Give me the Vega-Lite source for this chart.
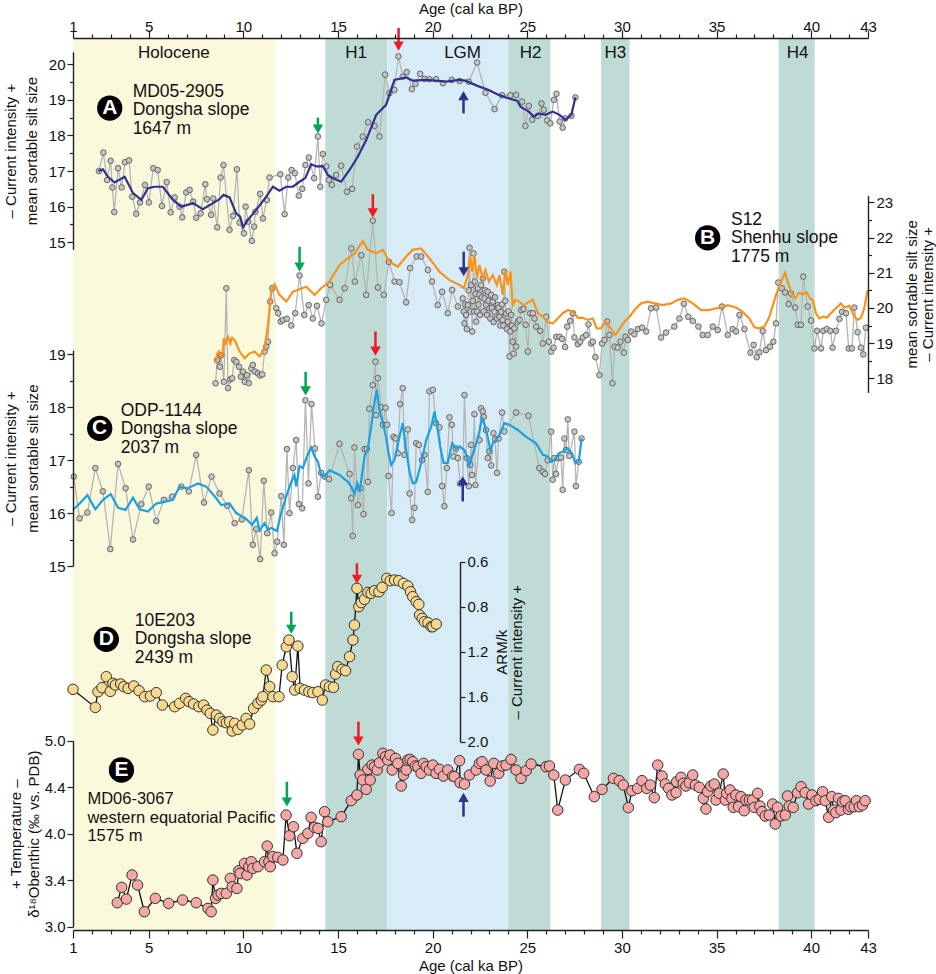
{
"$schema": "https://vega.github.io/schema/vega-lite/v6.json",
"width": 795, "height": 892,
"autosize": {"type": "none"},
"padding": {"left": 73, "top": 38, "right": 68, "bottom": 44},
"background": "white",
"config": {
  "view": {"stroke": null},
  "font": "Liberation Sans",
  "axis": {"grid": false, "zindex": 1, "domainColor": "#231f20", "domainWidth": 1.4, "tickColor": "#231f20", "tickWidth": 1.2, "labelColor": "#111111", "labelFont": "Liberation Sans", "labelFontSize": 15, "titleFont": "Liberation Sans", "titleFontSize": 15, "titleFontWeight": "normal", "titleColor": "#111111", "labelOverlap": false, "labelFlush": false, "labelPadding": 2},
  "text": {"font": "Liberation Sans"}
},
"datasets": {
  "bands": [
    {"name": "Holocene", "start": 1, "end": 11.7, "kind": "Holocene", "mid": 6.33},
    {"name": "H1", "start": 14.33, "end": 17.6, "kind": "Heinrich", "mid": 15.96},
    {"name": "LGM", "start": 17.6, "end": 24, "kind": "LGM", "mid": 21.58},
    {"name": "H2", "start": 24, "end": 26.22, "kind": "Heinrich", "mid": 25.17},
    {"name": "H3", "start": 28.9, "end": 30.4, "kind": "Heinrich", "mid": 29.65},
    {"name": "H4", "start": 38.28, "end": 40.18, "kind": "Heinrich", "mid": 39.28}
  ],
  "sites": [
    {"panel": "A", "cAge": 2.94, "cV": 18.77, "tAge": 4.15, "tV": 19.23, "letter": "A", "label": "MD05-2905\nDongsha slope\n1647 m"},
    {"panel": "B", "cAge": 34.53, "cV": 21.99, "tAge": 35.76, "tV": 22.5, "letter": "B", "label": "S12\nShenhu slope\n1775 m"},
    {"panel": "C", "cAge": 2.41, "cV": 17.6, "tAge": 3.52, "tV": 17.93, "letter": "C", "label": "ODP-1144\nDongsha slope\n2037 m"},
    {"panel": "D", "cAge": 2.76, "cV": 1.09, "tAge": 4.26, "tV": 0.927, "letter": "D", "label": "10E203\nDongsha slope\n2439 m"},
    {"panel": "E", "cAge": 3.56, "cV": 4.685, "tAge": 1.76, "tV": 4.373, "letter": "E", "label": "MD06-3067\nwestern equatorial Pacific\n1575 m"}
  ],
  "arrows": [
    {"panel": "A", "ev": "H1", "age": 18.2, "tail": 21.02, "head": 20.51, "dir": "down"},
    {"panel": "A", "ev": "BA", "age": 13.94, "tail": 18.5, "head": 18.18, "dir": "down"},
    {"panel": "A", "ev": "LGM", "age": 21.63, "tail": 18.62, "head": 19.12, "dir": "up"},
    {"panel": "B", "ev": "H1", "age": 16.84, "tail": 23.23, "head": 22.7, "dir": "down"},
    {"panel": "B", "ev": "BA", "age": 12.97, "tail": 21.74, "head": 21.16, "dir": "down"},
    {"panel": "B", "ev": "LGM", "age": 21.64, "tail": 21.6, "head": 21.03, "dir": "down"},
    {"panel": "C", "ev": "H1", "age": 16.98, "tail": 19.43, "head": 19.06, "dir": "down"},
    {"panel": "C", "ev": "BA", "age": 13.29, "tail": 18.67, "head": 18.31, "dir": "down"},
    {"panel": "C", "ev": "LGM", "age": 21.59, "tail": 16.22, "head": 16.61, "dir": "up"},
    {"panel": "D", "ev": "H1", "age": 16.0, "tail": 0.414, "head": 0.556, "dir": "down"},
    {"panel": "D", "ev": "BA", "age": 12.53, "tail": 0.844, "head": 1.001, "dir": "down"},
    {"panel": "E", "ev": "H1", "age": 16.08, "tail": 5.204, "head": 4.997, "dir": "down"},
    {"panel": "E", "ev": "BA", "age": 12.3, "tail": 4.559, "head": 4.341, "dir": "down"},
    {"panel": "E", "ev": "LGM", "age": 21.63, "tail": 4.183, "head": 4.391, "dir": "up"}
  ],
  "aRaw": [
    {"age":2.37,"v":17.0},{"age":2.6,"v":17.52},{"age":2.8,"v":16.75},{"age":2.99,"v":17.29},{"age":3.08,"v":16.54},{"age":3.18,"v":15.85},{"age":3.38,"v":17.08},{"age":3.57,"v":16.54},{"age":3.75,"v":17.25},{"age":3.96,"v":17.3},{"age":4.13,"v":16.28},{"age":4.34,"v":15.8},{"age":4.54,"v":16.12},{"age":4.8,"v":16.61},{"age":5.01,"v":16.12},{"age":5.24,"v":17.08},{"age":5.47,"v":17.03},{"age":5.7,"v":16.02},{"age":5.95,"v":16.69},{"age":6.16,"v":15.84},{"age":6.37,"v":16.26},{"age":6.63,"v":16.0},{"age":6.77,"v":15.7},{"age":6.98,"v":16.4},{"age":7.16,"v":16.47},{"age":7.35,"v":16.14},{"age":7.51,"v":15.69},{"age":7.74,"v":15.81},{"age":7.99,"v":16.63},{"age":8.07,"v":16.21},{"age":8.3,"v":15.77},{"age":8.41,"v":16.23},{"age":8.62,"v":15.42},{"age":8.8,"v":16.82},{"age":8.95,"v":17.17},{"age":9.27,"v":15.35},{"age":9.45,"v":15.74},{"age":9.66,"v":17.05},{"age":9.8,"v":15.55},{"age":10.03,"v":15.25},{"age":10.12,"v":16.0},{"age":10.26,"v":15.58},{"age":10.45,"v":15.04},{"age":10.57,"v":15.44},{"age":10.64,"v":15.86},{"age":10.89,"v":16.36},{"age":11.03,"v":15.67},{"age":11.24,"v":16.19},{"age":11.38,"v":16.82},{"age":11.95,"v":16.91},{"age":12.18,"v":15.79},{"age":12.37,"v":16.82},{"age":12.55,"v":17.03},{"age":12.72,"v":16.94},{"age":12.93,"v":16.31},{"age":13.11,"v":16.5},{"age":13.28,"v":17.17},{"age":13.46,"v":17.38},{"age":13.74,"v":16.8},{"age":13.94,"v":17.97},{"age":14.06,"v":16.56},{"age":14.2,"v":17.48},{"age":14.38,"v":17.13},{"age":14.52,"v":16.75},{"age":14.67,"v":16.61},{"age":14.9,"v":16.89},{"age":15.17,"v":17.15},{"age":15.47,"v":16.42},{"age":15.75,"v":16.5},{"age":16.01,"v":17.69},{"age":16.31,"v":17.97},{"age":16.59,"v":18.37},{"age":16.93,"v":18.27},{"age":17.19,"v":17.97},{"age":17.49,"v":19.71},{"age":17.72,"v":19.19},{"age":17.98,"v":19.28},{"age":18.19,"v":20.22},{"age":18.42,"v":19.65},{"age":18.63,"v":19.78},{"age":18.9,"v":19.3},{"age":19.09,"v":19.45},{"age":19.34,"v":19.73},{"age":19.57,"v":19.59},{"age":19.83,"v":19.58},{"age":20.18,"v":19.58},{"age":20.54,"v":19.47},{"age":21.01,"v":19.56},{"age":21.42,"v":19.53},{"age":21.91,"v":19.51},{"age":22.35,"v":20.05},{"age":22.79,"v":19.2},{"age":23.27,"v":18.74},{"age":23.67,"v":19.13},{"age":24.11,"v":19.13},{"age":24.41,"v":19.14},{"age":24.73,"v":18.95},{"age":24.9,"v":18.27},{"age":25.08,"v":18.83},{"age":25.26,"v":18.44},{"age":25.55,"v":18.55},{"age":25.75,"v":18.9},{"age":25.87,"v":18.72},{"age":26.05,"v":18.42},{"age":26.22,"v":18.34},{"age":26.4,"v":19.0},{"age":26.54,"v":19.17},{"age":26.71,"v":18.39},{"age":26.87,"v":18.22},{"age":27.01,"v":18.48},{"age":27.33,"v":18.55},{"age":27.54,"v":19.07}
  ],
  "aSmooth": [
    {"age":2.34,"v":17.0},{"age":2.58,"v":17.05},{"age":2.85,"v":16.84},{"age":3.2,"v":16.68},{"age":3.73,"v":16.84},{"age":4.17,"v":16.38},{"age":4.61,"v":16.19},{"age":4.96,"v":16.52},{"age":5.31,"v":16.56},{"age":5.75,"v":16.56},{"age":6.28,"v":16.19},{"age":6.72,"v":16.0},{"age":7.34,"v":16.1},{"age":7.86,"v":15.93},{"age":8.39,"v":16.1},{"age":8.74,"v":16.21},{"age":8.95,"v":16.33},{"age":9.27,"v":16.26},{"age":9.62,"v":15.81},{"age":9.83,"v":15.72},{"age":9.98,"v":15.42},{"age":10.24,"v":15.63},{"age":10.68,"v":15.91},{"age":11.21,"v":16.28},{"age":11.56,"v":16.56},{"age":11.91,"v":16.45},{"age":12.26,"v":16.56},{"age":12.62,"v":16.56},{"age":12.97,"v":16.7},{"age":13.28,"v":16.81},{"age":13.58,"v":17.19},{"age":13.85,"v":17.13},{"age":14.2,"v":17.14},{"age":14.46,"v":16.89},{"age":14.73,"v":16.8},{"age":15.17,"v":16.7},{"age":15.61,"v":17.03},{"age":16.05,"v":17.41},{"age":16.49,"v":17.87},{"age":17.02,"v":18.58},{"age":17.54,"v":18.86},{"age":17.98,"v":19.56},{"age":18.6,"v":19.63},{"age":18.95,"v":19.54},{"age":19.66,"v":19.56},{"age":20.71,"v":19.51},{"age":21.42,"v":19.56},{"age":21.73,"v":19.54},{"age":22.33,"v":19.4},{"age":22.96,"v":19.28},{"age":23.49,"v":19.14},{"age":24.02,"v":19.04},{"age":24.46,"v":18.98},{"age":24.64,"v":18.81},{"age":25.08,"v":18.67},{"age":25.34,"v":18.53},{"age":25.61,"v":18.62},{"age":25.96,"v":18.58},{"age":26.34,"v":18.67},{"age":26.7,"v":18.58},{"age":27.01,"v":18.44},{"age":27.33,"v":18.58},{"age":27.54,"v":19.07}
  ],
  "bRaw": [
    {"age":8.53,"v":17.86},{"age":8.62,"v":18.52},{"age":8.75,"v":18.33},{"age":8.83,"v":18.66},{"age":8.97,"v":17.9},{"age":9.1,"v":20.56},{"age":9.19,"v":17.72},{"age":9.31,"v":17.97},{"age":9.41,"v":18.0},{"age":9.52,"v":18.52},{"age":9.63,"v":18.47},{"age":9.77,"v":18.33},{"age":9.87,"v":18.05},{"age":9.98,"v":18.19},{"age":10.07,"v":17.9},{"age":10.19,"v":18.09},{"age":10.29,"v":17.86},{"age":10.42,"v":18.28},{"age":10.5,"v":18.38},{"age":10.61,"v":18.19},{"age":10.77,"v":18.14},{"age":10.89,"v":18.08},{"age":11.0,"v":18.11},{"age":11.12,"v":18.76},{"age":11.21,"v":18.9},{"age":11.3,"v":19.04},{"age":11.42,"v":20.18},{"age":11.53,"v":20.56},{"age":11.74,"v":19.99},{"age":11.84,"v":19.85},{"age":11.97,"v":19.61},{"age":12.09,"v":19.66},{"age":12.3,"v":19.69},{"age":12.53,"v":19.5},{"age":12.74,"v":19.85},{"age":12.97,"v":20.92},{"age":13.22,"v":19.8},{"age":13.45,"v":20.08},{"age":13.67,"v":19.7},{"age":13.89,"v":20.06},{"age":14.13,"v":19.56},{"age":14.38,"v":20.23},{"age":14.59,"v":20.65},{"age":15.08,"v":20.23},{"age":15.35,"v":20.56},{"age":15.7,"v":21.69},{"age":15.89,"v":20.75},{"age":16.23,"v":21.5},{"age":16.49,"v":20.37},{"age":16.84,"v":22.48},{"age":17.11,"v":20.58},{"age":17.42,"v":20.37},{"age":17.69,"v":21.31},{"age":17.99,"v":20.75},{"age":18.25,"v":20.73},{"age":18.6,"v":20.16},{"age":18.81,"v":21.13},{"age":19.16,"v":21.46},{"age":19.39,"v":21.46},{"age":19.75,"v":21.08},{"age":19.97,"v":20.75},{"age":20.27,"v":20.08},{"age":20.5,"v":20.46},{"age":20.8,"v":19.85},{"age":21.03,"v":20.51},{"age":21.33,"v":20.04},{"age":21.59,"v":20.27},{"age":21.64,"v":19.9},{"age":21.68,"v":19.56},{"age":21.72,"v":20.1},{"age":21.77,"v":19.8},{"age":21.81,"v":19.4},{"age":21.86,"v":20.08},{"age":21.9,"v":20.5},{"age":21.95,"v":21.71},{"age":22.0,"v":19.9},{"age":22.03,"v":20.65},{"age":22.09,"v":19.33},{"age":22.12,"v":20.2},{"age":22.16,"v":21.55},{"age":22.2,"v":19.9},{"age":22.23,"v":20.75},{"age":22.27,"v":20.4},{"age":22.3,"v":19.61},{"age":22.35,"v":19.9},{"age":22.39,"v":20.56},{"age":22.43,"v":20.1},{"age":22.47,"v":20.37},{"age":22.51,"v":19.8},{"age":22.56,"v":20.65},{"age":22.6,"v":20.3},{"age":22.65,"v":20.84},{"age":22.69,"v":19.9},{"age":22.74,"v":20.27},{"age":22.78,"v":20.5},{"age":22.83,"v":20.08},{"age":22.87,"v":19.8},{"age":22.91,"v":20.46},{"age":22.95,"v":20.2},{"age":23.0,"v":19.99},{"age":23.05,"v":19.7},{"age":23.09,"v":20.37},{"age":23.13,"v":20.0},{"age":23.18,"v":20.18},{"age":23.22,"v":19.6},{"age":23.26,"v":19.89},{"age":23.3,"v":20.3},{"age":23.4,"v":19.7},{"age":23.44,"v":20.08},{"age":23.48,"v":20.0},{"age":23.53,"v":19.75},{"age":23.57,"v":19.5},{"age":23.62,"v":19.89},{"age":23.66,"v":20.1},{"age":23.7,"v":19.66},{"age":23.74,"v":19.5},{"age":23.79,"v":21.03},{"age":23.84,"v":20.2},{"age":23.88,"v":19.84},{"age":23.92,"v":19.4},{"age":23.97,"v":19.61},{"age":24.01,"v":19.9},{"age":24.06,"v":18.62},{"age":24.1,"v":19.33},{"age":24.15,"v":19.8},{"age":24.19,"v":19.5},{"age":24.23,"v":19.04},{"age":24.28,"v":18.7},{"age":24.32,"v":19.42},{"age":24.41,"v":18.9},{"age":24.5,"v":19.61},
    {"age":24.59,"v":19.66},{"age":24.68,"v":19.94},{"age":24.8,"v":19.97},{"age":24.91,"v":19.52},{"age":25.03,"v":18.76},{"age":25.15,"v":19.85},{"age":25.29,"v":19.85},{"age":25.38,"v":19.7},{"age":25.47,"v":19.47},{"age":25.68,"v":19.35},{"age":25.82,"v":18.99},{"age":26.0,"v":19.75},{"age":26.14,"v":19.04},{"age":26.26,"v":18.76},{"age":26.39,"v":18.87},{"age":26.53,"v":19.18},{"age":26.7,"v":19.18},{"age":26.84,"v":19.12},{"age":27.0,"v":18.89},{"age":27.11,"v":19.47},{"age":27.27,"v":19.63},{"age":27.41,"v":19.85},{"age":27.49,"v":19.16},{"age":27.67,"v":18.97},{"age":27.79,"v":19.04},{"age":27.93,"v":19.16},{"age":28.11,"v":19.23},{"age":28.23,"v":19.53},{"age":28.37,"v":18.99},{"age":28.46,"v":19.04},{"age":28.6,"v":18.6},{"age":28.81,"v":18.09},{"age":28.95,"v":18.99},{"age":29.08,"v":19.09},{"age":29.22,"v":19.61},{"age":29.34,"v":19.23},{"age":29.5,"v":17.86},{"age":29.61,"v":18.9},{"age":29.78,"v":18.87},{"age":29.92,"v":19.04},{"age":30.1,"v":18.73},{"age":30.19,"v":19.18},{"age":30.31,"v":19.09},{"age":30.49,"v":19.33},{"age":30.66,"v":19.25},{"age":30.84,"v":19.4},{"age":31.07,"v":19.44},{"age":31.28,"v":19.33},{"age":31.54,"v":19.99},{"age":31.81,"v":20.01},{"age":32.07,"v":19.16},{"age":32.33,"v":19.3},{"age":32.77,"v":19.47},{"age":33.04,"v":19.7},{"age":33.27,"v":20.12},{"age":33.5,"v":19.75},{"age":33.74,"v":19.63},{"age":34.04,"v":19.47},{"age":34.27,"v":19.23},{"age":34.53,"v":19.23},{"age":34.8,"v":19.47},{"age":35.06,"v":19.37},{"age":35.29,"v":20.04},{"age":35.59,"v":19.23},{"age":35.85,"v":19.4},{"age":36.03,"v":19.33},{"age":36.21,"v":19.8},{"age":36.47,"v":19.4},{"age":36.79,"v":18.73},{"age":36.96,"v":18.95},{"age":37.12,"v":18.6},{"age":37.26,"v":18.74},{"age":37.44,"v":19.34},{"age":37.61,"v":18.8},{"age":37.82,"v":18.9},{"age":38.0,"v":19.04},{"age":38.14,"v":19.56},{"age":38.26,"v":20.72},{"age":38.44,"v":20.56},{"age":38.62,"v":20.44},{"age":38.81,"v":20.11},{"age":38.93,"v":20.41},{"age":39.15,"v":20.01},{"age":39.29,"v":19.52},{"age":39.46,"v":19.52},{"age":39.58,"v":20.89},{"age":39.81,"v":20.04},{"age":39.99,"v":19.64},{"age":40.17,"v":18.85},{"age":40.31,"v":19.35},{"age":40.52,"v":18.85},{"age":40.64,"v":19.35},{"age":40.82,"v":19.4},{"age":41.01,"v":19.35},{"age":41.13,"v":18.87},{"age":41.31,"v":19.35},{"age":41.49,"v":19.69},{"age":41.63,"v":19.89},{"age":41.84,"v":19.85},{"age":41.98,"v":18.85},{"age":42.15,"v":18.85},{"age":42.28,"v":20.01},{"age":42.45,"v":19.31},{"age":42.63,"v":18.87},{"age":42.75,"v":18.68},{"age":42.89,"v":19.44}
  ],
  "bSmooth": [
    {"age":8.53,"v":18.43},{"age":8.62,"v":18.7},{"age":8.71,"v":18.76},{"age":8.8,"v":18.62},{"age":8.89,"v":18.66},{"age":8.97,"v":19.14},{"age":9.05,"v":18.95},{"age":9.12,"v":19.1},{"age":9.19,"v":19.18},{"age":9.31,"v":18.99},{"age":9.38,"v":19.15},{"age":9.45,"v":19.14},{"age":9.59,"v":19.04},{"age":9.8,"v":18.76},{"age":10.07,"v":18.57},{"age":10.33,"v":18.71},{"age":10.59,"v":18.76},{"age":10.86,"v":18.62},{"age":11.12,"v":18.85},{"age":11.3,"v":19.52},{"age":11.47,"v":20.46},{"age":11.65,"v":20.67},{"age":11.91,"v":20.37},{"age":12.27,"v":20.18},{"age":12.62,"v":20.46},{"age":13.32,"v":20.6},{"age":13.76,"v":20.37},{"age":14.11,"v":20.56},{"age":14.55,"v":20.75},{"age":15.08,"v":21.22},{"age":15.52,"v":21.41},{"age":15.87,"v":21.55},{"age":16.31,"v":21.9},{"age":16.58,"v":21.65},{"age":17.02,"v":21.55},{"age":17.37,"v":21.65},{"age":17.72,"v":21.31},{"age":18.16,"v":21.17},{"age":18.6,"v":21.46},{"age":18.95,"v":21.65},{"age":19.39,"v":21.69},{"age":19.83,"v":21.41},{"age":20.36,"v":21.03},{"age":20.89,"v":20.79},{"age":21.42,"v":20.65},{"age":21.65,"v":20.56},{"age":21.86,"v":20.93},{"age":21.98,"v":21.5},{"age":22.09,"v":21.03},{"age":22.21,"v":21.5},{"age":22.34,"v":20.85},{"age":22.47,"v":21.22},{"age":22.65,"v":20.84},{"age":22.79,"v":21.08},{"age":22.97,"v":20.75},{"age":23.18,"v":20.93},{"age":23.39,"v":20.65},{"age":23.53,"v":20.93},{"age":23.71,"v":20.37},{"age":23.85,"v":21.08},{"age":23.97,"v":20.65},{"age":24.11,"v":21.03},{"age":24.23,"v":20.08},{"age":24.37,"v":20.23},{"age":24.58,"v":20.18},{"age":24.8,"v":20.08},{"age":25.29,"v":20.23},{"age":25.56,"v":19.85},{"age":25.82,"v":19.75},{"age":26.09,"v":19.59},{"age":26.35,"v":19.56},{"age":26.61,"v":19.7},{"age":26.88,"v":19.85},{"age":27.14,"v":19.94},{"age":27.41,"v":19.89},{"age":27.67,"v":19.72},{"age":27.93,"v":19.72},{"age":28.2,"v":19.66},{"age":28.46,"v":19.7},{"age":28.67,"v":19.42},{"age":28.9,"v":19.42},{"age":29.13,"v":19.61},{"age":29.34,"v":19.47},{"age":29.66,"v":19.23},{"age":30.13,"v":19.61},{"age":30.4,"v":19.75},{"age":30.66,"v":19.94},{"age":31.01,"v":20.13},{"age":31.37,"v":20.18},{"age":31.72,"v":20.13},{"age":32.16,"v":20.08},{"age":32.6,"v":20.13},{"age":32.95,"v":20.23},{"age":33.3,"v":20.27},{"age":33.74,"v":20.13},{"age":34.18,"v":19.94},{"age":34.62,"v":19.94},{"age":34.97,"v":19.99},{"age":35.33,"v":20.01},{"age":35.59,"v":20.08},{"age":36.03,"v":20.01},{"age":36.38,"v":19.89},{"age":36.73,"v":19.7},{"age":37.0,"v":19.45},{"age":37.26,"v":19.42},{"age":37.53,"v":19.47},{"age":37.79,"v":19.75},{"age":38.14,"v":20.37},{"age":38.41,"v":20.75},{"age":38.62,"v":21.0},{"age":38.76,"v":20.75},{"age":38.93,"v":20.46},{"age":39.16,"v":20.27},{"age":39.34,"v":20.43},{"age":39.55,"v":20.39},{"age":39.76,"v":20.44},{"age":39.94,"v":20.27},{"age":40.08,"v":20.23},{"age":40.25,"v":19.85},{"age":40.43,"v":19.7},{"age":40.64,"v":19.75},{"age":40.82,"v":19.72},{"age":41.04,"v":19.85},{"age":41.31,"v":19.99},{"age":41.57,"v":20.13},{"age":41.75,"v":20.01},{"age":42.01,"v":20.06},{"age":42.28,"v":19.75},{"age":42.45,"v":19.66},{"age":42.63,"v":19.72},{"age":42.8,"v":19.99},{"age":42.98,"v":20.5}
  ],
  "cRaw": [
    {"age":1.04,"v":16.69},{"age":1.35,"v":15.9},{"age":1.76,"v":16.01},{"age":2.18,"v":16.85},{"age":2.58,"v":16.41},{"age":2.97,"v":15.32},{"age":3.38,"v":16.93},{"age":3.78,"v":16.47},{"age":4.17,"v":15.5},{"age":4.61,"v":16.17},{"age":5.0,"v":16.5},{"age":5.4,"v":15.85},{"age":5.8,"v":16.25},{"age":6.24,"v":16.31},{"age":6.72,"v":16.5},{"age":7.12,"v":16.41},{"age":7.51,"v":17.1},{"age":7.92,"v":16.2},{"age":8.32,"v":16.69},{"age":8.74,"v":16.37},{"age":9.15,"v":16.14},{"age":9.54,"v":15.81},{"age":9.92,"v":15.88},{"age":10.29,"v":16.81},{"age":10.5,"v":15.4},{"age":10.68,"v":15.7},{"age":10.89,"v":15.13},{"age":11.08,"v":16.61},{"age":11.26,"v":15.62},{"age":11.47,"v":16.01},{"age":11.65,"v":15.24},{"age":11.79,"v":15.46},{"age":12.0,"v":16.32},{"age":12.14,"v":15.4},{"age":12.3,"v":17.21},{"age":12.44,"v":16.0},{"age":12.62,"v":16.85},{"age":12.79,"v":17.38},{"age":12.93,"v":16.17},{"age":13.11,"v":16.09},{"age":13.28,"v":18.13},{"age":13.44,"v":16.56},{"age":13.6,"v":18.06},{"age":13.78,"v":17.22},{"age":13.94,"v":16.31},{"age":14.11,"v":16.76},{"age":14.29,"v":16.69},{"age":14.52,"v":16.64},{"age":15.08,"v":17.31},{"age":15.61,"v":16.74},{"age":15.7,"v":16.28},{"age":15.78,"v":15.57},{"age":15.87,"v":17.24},{"age":16.05,"v":16.15},{"age":16.19,"v":16.47},{"age":16.35,"v":15.98},{"age":16.4,"v":17.21},{"age":16.52,"v":17.21},{"age":16.58,"v":16.59},{"age":16.66,"v":17.97},{"age":16.84,"v":18.42},{"age":16.98,"v":18.86},{"age":17.02,"v":17.85},{"age":17.1,"v":18.55},{"age":17.28,"v":18.0},{"age":17.37,"v":17.67},{"age":17.51,"v":17.99},{"age":17.6,"v":17.67},{"age":17.67,"v":16.7},{"age":17.83,"v":16.0},{"age":17.93,"v":17.44},{"age":18.04,"v":17.41},{"age":18.16,"v":17.13},{"age":18.28,"v":18.06},{"age":18.42,"v":18.36},{"age":18.51,"v":17.1},{"age":18.69,"v":17.58},{"age":18.78,"v":16.37},{"age":18.92,"v":15.87},{"age":19.04,"v":16.1},{"age":19.13,"v":17.32},{"age":19.27,"v":17.29},{"age":19.44,"v":17.0},{"age":19.57,"v":17.1},{"age":19.74,"v":16.4},{"age":19.83,"v":18.3},{"age":20.01,"v":18.33},{"age":20.18,"v":17.7},{"age":20.36,"v":17.62},{"age":20.5,"v":16.51},{"age":20.62,"v":16.13},{"age":20.75,"v":16.85},{"age":20.89,"v":17.81},{"age":21.01,"v":17.67},{"age":21.1,"v":17.07},{"age":21.24,"v":17.22},{"age":21.33,"v":17.04},{"age":21.45,"v":16.56},{"age":21.59,"v":16.58},{"age":21.68,"v":18.23},{"age":21.8,"v":17.04},{"age":21.91,"v":16.51},{"age":21.98,"v":16.91},{"age":22.03,"v":17.29},{"age":22.08,"v":16.72},{"age":22.21,"v":17.87},{"age":22.26,"v":16.53},{"age":22.47,"v":17.38},{"age":22.56,"v":17.98},{"age":22.65,"v":17.92},{"age":22.7,"v":17.82},{"age":22.82,"v":17.57},{"age":22.91,"v":17.04},{"age":23.0,"v":17.17},{"age":23.09,"v":16.9},{"age":23.21,"v":17.51},{"age":23.3,"v":17.39},{"age":23.4,"v":16.76},{"age":23.49,"v":17.41},{"age":23.67,"v":17.9},{"age":23.79,"v":17.54},{"age":24.41,"v":17.9},{"age":25.06,"v":17.84},{"age":25.64,"v":16.85},{"age":25.82,"v":16.78},{"age":25.94,"v":16.74},{"age":26.08,"v":17.0},{"age":26.26,"v":17.54},{"age":26.34,"v":16.63},{"age":26.43,"v":17.04},{"age":26.52,"v":16.74},{"age":26.66,"v":17.04},{"age":26.78,"v":17.05},{"age":26.87,"v":16.44},{"age":26.96,"v":17.41},{"age":27.05,"v":17.19},{"age":27.14,"v":17.77},{"age":27.22,"v":17.08},{"age":27.49,"v":17.54},{"age":27.57,"v":16.51},{"age":27.72,"v":16.97},{"age":27.87,"v":17.41}
  ],
  "cSmooth": [
    {"age":1.0,"v":16.06},{"age":1.35,"v":16.18},{"age":1.76,"v":16.34},{"age":2.18,"v":16.07},{"age":2.58,"v":16.25},{"age":2.99,"v":16.36},{"age":3.38,"v":16.1},{"age":3.78,"v":16.06},{"age":4.17,"v":16.29},{"age":4.52,"v":16.07},{"age":4.96,"v":16.03},{"age":5.4,"v":16.18},{"age":5.93,"v":16.22},{"age":6.28,"v":16.25},{"age":6.63,"v":16.5},{"age":7.07,"v":16.47},{"age":7.6,"v":16.56},{"age":8.04,"v":16.5},{"age":8.57,"v":16.28},{"age":8.83,"v":16.15},{"age":9.27,"v":16.18},{"age":9.62,"v":16.0},{"age":10.12,"v":15.9},{"age":10.47,"v":15.78},{"age":10.71,"v":15.91},{"age":10.86,"v":15.67},{"age":11.12,"v":15.81},{"age":11.3,"v":15.69},{"age":11.47,"v":15.72},{"age":11.77,"v":15.66},{"age":12.0,"v":16.0},{"age":12.26,"v":16.31},{"age":12.53,"v":16.59},{"age":12.7,"v":16.72},{"age":12.79,"v":16.5},{"age":12.97,"v":16.89},{"age":13.14,"v":16.85},{"age":13.36,"v":17.07},{"age":13.58,"v":17.24},{"age":13.76,"v":17.07},{"age":13.94,"v":16.97},{"age":14.11,"v":16.72},{"age":14.29,"v":16.69},{"age":14.55,"v":16.81},{"age":15.08,"v":16.72},{"age":15.52,"v":16.59},{"age":15.7,"v":16.5},{"age":15.87,"v":16.36},{"age":16.01,"v":16.56},{"age":16.14,"v":16.4},{"age":16.4,"v":17.07},{"age":16.58,"v":17.22},{"age":16.75,"v":17.63},{"age":16.93,"v":18.11},{"age":17.05,"v":18.33},{"age":17.19,"v":17.95},{"age":17.37,"v":17.7},{"age":17.54,"v":17.44},{"age":17.67,"v":17.13},{"age":17.81,"v":16.91},{"age":17.98,"v":17.0},{"age":18.25,"v":17.44},{"age":18.42,"v":17.7},{"age":18.6,"v":17.19},{"age":18.78,"v":16.78},{"age":18.95,"v":16.56},{"age":19.13,"v":16.59},{"age":19.39,"v":16.94},{"age":19.66,"v":17.38},{"age":19.92,"v":17.63},{"age":20.1,"v":17.92},{"age":20.24,"v":17.63},{"age":20.4,"v":17.26},{"age":20.57,"v":16.95},{"age":20.8,"v":16.95},{"age":21.03,"v":17.32},{"age":21.24,"v":17.22},{"age":21.42,"v":17.26},{"age":21.68,"v":17.19},{"age":21.94,"v":16.91},{"age":22.08,"v":17.07},{"age":22.26,"v":17.26},{"age":22.47,"v":17.54},{"age":22.61,"v":17.81},{"age":22.74,"v":17.67},{"age":22.91,"v":17.44},{"age":23.05,"v":17.19},{"age":23.18,"v":17.32},{"age":23.35,"v":17.38},{"age":23.53,"v":17.48},{"age":23.79,"v":17.7},{"age":24.06,"v":17.67},{"age":24.5,"v":17.57},{"age":24.94,"v":17.44},{"age":25.46,"v":17.32},{"age":25.82,"v":17.1},{"age":26.08,"v":17.07},{"age":26.26,"v":16.97},{"age":26.43,"v":17.0},{"age":26.66,"v":17.13},{"age":26.87,"v":17.16},{"age":27.14,"v":17.22},{"age":27.36,"v":17.13},{"age":27.54,"v":16.94},{"age":27.72,"v":16.97},{"age":27.87,"v":17.41}
  ],
  "dRaw": [
    {"age":1.0,"v":1.535},{"age":2.18,"v":1.695},{"age":2.32,"v":1.556},{"age":2.53,"v":1.52},{"age":2.76,"v":1.422},{"age":2.97,"v":1.553},{"age":3.11,"v":1.481},{"age":3.24,"v":1.496},{"age":3.52,"v":1.487},{"age":3.68,"v":1.511},{"age":3.91,"v":1.526},{"age":4.21,"v":1.505},{"age":4.49,"v":1.547},{"age":4.79,"v":1.6},{"age":5.09,"v":1.594},{"age":5.4,"v":1.564},{"age":5.72,"v":1.674},{"age":6.37,"v":1.689},{"age":6.63,"v":1.659},{"age":6.95,"v":1.615},{"age":7.13,"v":1.644},{"age":7.37,"v":1.665},{"age":7.65,"v":1.689},{"age":7.9,"v":1.674},{"age":8.08,"v":1.719},{"age":8.25,"v":1.748},{"age":8.39,"v":1.896},{"age":8.57,"v":1.763},{"age":8.75,"v":1.793},{"age":8.92,"v":1.822},{"age":9.1,"v":1.831},{"age":9.27,"v":1.822},{"age":9.41,"v":1.905},{"age":9.54,"v":1.837},{"age":9.71,"v":1.89},{"age":9.94,"v":1.852},{"age":10.15,"v":1.793},{"age":10.33,"v":1.843},{"age":10.54,"v":1.704},{"age":10.77,"v":1.659},{"age":10.95,"v":1.63},{"age":11.03,"v":1.6},{"age":11.21,"v":1.363},{"age":11.39,"v":1.511},{"age":11.56,"v":1.6},{"age":11.88,"v":1.6},{"age":12.05,"v":1.319},{"age":12.27,"v":1.156},{"age":12.41,"v":1.096},{"age":12.58,"v":1.422},{"age":12.71,"v":1.541},{"age":12.88,"v":1.15},{"age":13.0,"v":1.526},{"age":13.23,"v":1.541},{"age":13.46,"v":1.556},{"age":13.67,"v":1.564},{"age":13.94,"v":1.556},{"age":14.17,"v":1.63},{"age":14.34,"v":1.496},{"age":14.55,"v":1.511},{"age":14.76,"v":1.517},{"age":14.87,"v":1.399},{"age":14.99,"v":1.333},{"age":15.22,"v":1.357},{"age":15.4,"v":1.369},{"age":15.61,"v":1.244},{"age":15.79,"v":1.096},{"age":15.87,"v":0.963},{"age":16.0,"v":0.637},{"age":16.1,"v":0.8},{"age":16.23,"v":0.764},{"age":16.4,"v":0.735},{"age":16.58,"v":0.673},{"age":16.75,"v":0.681},{"age":16.93,"v":0.658},{"age":17.16,"v":0.667},{"age":17.33,"v":0.628},{"age":17.58,"v":0.548},{"age":17.76,"v":0.569},{"age":17.99,"v":0.563},{"age":18.21,"v":0.569},{"age":18.46,"v":0.593},{"age":18.69,"v":0.616},{"age":18.83,"v":0.667},{"age":18.95,"v":0.711},{"age":19.13,"v":0.756},{"age":19.27,"v":0.779},{"age":19.31,"v":0.874},{"age":19.45,"v":0.904},{"age":19.57,"v":0.933},{"age":19.75,"v":0.942},{"age":19.92,"v":0.978},{"age":20.01,"v":0.978},{"age":20.19,"v":0.954}
  ],
  "eRaw": [
    {"age":3.34,"v":3.258},{"age":3.57,"v":3.423},{"age":3.82,"v":3.297},{"age":4.12,"v":3.556},{"age":4.41,"v":3.448},{"age":4.77,"v":3.161},{"age":5.35,"v":3.305},{"age":6.05,"v":3.251},{"age":6.79,"v":3.287},{"age":7.51,"v":3.258},{"age":8.13,"v":3.197},{"age":8.3,"v":3.161},{"age":8.39,"v":3.502},{"age":8.53,"v":3.305},{"age":8.66,"v":3.341},{"age":8.83,"v":3.358},{"age":9.1,"v":3.358},{"age":9.31,"v":3.52},{"age":9.41,"v":3.43},{"age":9.66,"v":3.412},{"age":9.76,"v":3.602},{"age":9.83,"v":3.573},{"age":10.06,"v":3.681},{"age":10.19,"v":3.556},{"age":10.29,"v":3.645},{"age":10.42,"v":3.699},{"age":10.5,"v":3.627},{"age":10.77,"v":3.645},{"age":11.12,"v":3.699},{"age":11.26,"v":3.867},{"age":11.35,"v":3.699},{"age":11.42,"v":3.645},{"age":11.56,"v":3.753},{"age":11.82,"v":3.746},{"age":12.09,"v":3.717},{"age":12.26,"v":4.2},{"age":12.44,"v":3.978},{"age":12.65,"v":4.075},{"age":12.83,"v":3.789},{"age":13.14,"v":3.95},{"age":13.41,"v":4.004},{"age":13.58,"v":4.176},{"age":13.76,"v":4.068},{"age":13.94,"v":4.057},{"age":14.11,"v":3.914},{"age":14.29,"v":4.237},{"age":14.46,"v":4.129},{"age":15.17,"v":4.183},{"age":15.7,"v":4.355},{"age":16.0,"v":4.416},{"age":16.08,"v":4.853},{"age":16.17,"v":4.631},{"age":16.31,"v":4.577},{"age":16.49,"v":4.477},{"age":16.58,"v":4.692},{"age":16.7,"v":4.577},{"age":16.8,"v":4.738},{"age":16.93,"v":4.72},{"age":17.07,"v":4.685},{"age":17.19,"v":4.763},{"age":17.37,"v":4.864},{"age":17.51,"v":4.828},{"age":17.63,"v":4.792},{"age":17.75,"v":4.846},{"age":17.86,"v":4.685},{"age":18.04,"v":4.81},{"age":18.16,"v":4.756},{"age":18.34,"v":4.513},{"age":18.46,"v":4.631},{"age":18.6,"v":4.685},{"age":18.69,"v":4.792},{"age":18.81,"v":4.799},{"age":18.95,"v":4.774},{"age":19.09,"v":4.728},{"age":19.22,"v":4.72},{"age":19.39,"v":4.649},{"age":19.52,"v":4.756},{"age":19.66,"v":4.72},{"age":19.83,"v":4.685},{"age":20.01,"v":4.738},{"age":20.18,"v":4.649},{"age":20.36,"v":4.692},{"age":20.57,"v":4.62},{"age":20.8,"v":4.685},{"age":21.06,"v":4.62},{"age":21.15,"v":4.613},{"age":21.42,"v":4.785},{"age":21.45,"v":4.548},{"age":21.68,"v":4.534},{"age":21.94,"v":4.631},{"age":22.3,"v":4.685},{"age":22.47,"v":4.756},{"age":22.61,"v":4.774},{"age":22.82,"v":4.685},{"age":23.04,"v":4.566},{"age":23.23,"v":4.756},{"age":23.49,"v":4.649},{"age":23.67,"v":4.728},{"age":23.88,"v":4.738},{"age":24.14,"v":4.799},{"age":24.41,"v":4.685},{"age":24.67,"v":4.595},{"age":24.94,"v":4.677},{"age":25.2,"v":4.749},{"age":25.99,"v":4.72},{"age":26.17,"v":4.728},{"age":26.4,"v":4.631},{"age":26.61,"v":4.254},{"age":27.01,"v":4.577},{"age":27.75,"v":4.692},{"age":27.98,"v":4.649},{"age":28.54,"v":4.398},{"age":28.95,"v":4.477},{"age":29.55,"v":4.595},{"age":29.86,"v":4.57},{"age":30.07,"v":4.523},{"age":30.34,"v":4.28},{"age":30.53,"v":4.462},{"age":30.83,"v":4.487},{"age":31.06,"v":4.57},{"age":31.31,"v":4.487},{"age":31.5,"v":4.523},{"age":31.71,"v":4.387},{"age":31.89,"v":4.738},{"age":32.12,"v":4.62},{"age":32.29,"v":4.534},{"age":32.47,"v":4.487},{"age":32.64,"v":4.416},{"age":32.86,"v":4.441},{"age":32.89,"v":4.559},{"age":33.12,"v":4.606},{"age":33.24,"v":4.541},{"age":33.38,"v":4.513},{"age":33.56,"v":4.548},{"age":33.74,"v":4.631},{"age":33.88,"v":4.523},{"age":34.09,"v":4.498},{"age":34.3,"v":4.38},{"age":34.44,"v":4.265},{"age":34.53,"v":4.452},{"age":34.7,"v":4.513},{"age":34.88,"v":4.534},{"age":34.97,"v":4.362},{"age":35.14,"v":4.434},{"age":35.35,"v":4.642},{"age":35.46,"v":4.362},{"age":35.53,"v":4.434},{"age":35.71,"v":4.47},{"age":35.81,"v":4.38},{"age":35.88,"v":4.283},{"age":36.02,"v":4.416},{"age":36.16,"v":4.29},{"age":36.29,"v":4.398},{"age":36.46,"v":4.247},{"age":36.55,"v":4.362},{"age":36.73,"v":4.362},{"age":36.9,"v":4.362},{"age":36.99,"v":4.283},{"age":37.17,"v":4.434},{"age":37.29,"v":4.297},{"age":37.4,"v":4.237},{"age":37.57,"v":4.19},{"age":37.78,"v":4.201},{"age":37.96,"v":4.319},{"age":38.1,"v":4.104},{"age":38.22,"v":4.283},{"age":38.4,"v":4.19},{"age":38.63,"v":4.201},{"age":38.75,"v":4.405},{"age":38.84,"v":4.297},{"age":39.05,"v":4.283},{"age":39.28,"v":4.441},{"age":39.46,"v":4.505},{"age":39.68,"v":4.441},{"age":39.86,"v":4.319},{"age":40.04,"v":4.416},{"age":40.25,"v":4.355},{"age":40.42,"v":4.369},{"age":40.6,"v":4.452},{"age":40.74,"v":4.355},{"age":40.92,"v":4.176},{"age":41.09,"v":4.398},{"age":41.18,"v":4.254},{"age":41.3,"v":4.226},{"age":41.44,"v":4.38},{"age":41.57,"v":4.254},{"age":41.65,"v":4.344},{"age":41.79,"v":4.355},{"age":41.97,"v":4.262},{"age":42.09,"v":4.29},{"age":42.27,"v":4.29},{"age":42.39,"v":4.355},{"age":42.54,"v":4.29},{"age":42.71,"v":4.308},{"age":42.85,"v":4.355}
  ]
},
"layer": [
  {
    "data": {"name": "bands"},
    "mark": {"type": "rect"},
    "encoding": {
      "x": {"field": "start", "type": "quantitative", "scale": {"domain": [1, 43], "nice": false, "zero": false},
        "axis": {"orient": "top", "zindex": 1, "labelOverlap": false, "title": "Age (cal ka BP)", "values": [1,2,3,4,5,6,7,8,9,10,11,12,13,14,15,16,17,18,19,20,21,22,23,24,25,26,27,28,29,30,31,32,33,34,35,36,37,38,39,40,41,42,43],
          "labelExpr": "(datum.value == 1 || datum.value == 43 || datum.value % 5 == 0) ? format(datum.value, 'd') : ''",
          "tickSize": {"condition": {"test": "datum.value == 1 || datum.value == 43 || datum.value % 5 == 0", "value": 8}, "value": 4},
          "labelPadding": -4, "titlePadding": 3}},
      "x2": {"field": "end"},
      "color": {"field": "kind", "type": "nominal", "scale": {"domain": ["Holocene", "Heinrich", "LGM"], "range": ["#fbf9db", "#bedcd5", "#d8ecf8"]}, "legend": null}
    }
  },
  {
    "layer": [
      {"data": {"name": "aRaw"}, "mark": {"type": "line", "stroke": "#b5b5b5", "strokeWidth": 1.3},
       "encoding": {"x": {"field": "age", "type": "quantitative", "axis": null},
         "y": {"field": "v", "type": "quantitative", "scale": {"domain": [14.8, 20.35], "range": [211.4, 13.8], "nice": false, "zero": false},
           "axis": {"orient": "left", "zindex": 1, "labelOverlap": false, "values": [15,15.5,16,16.5,17,17.5,18,18.5,19,19.5,20], "labelExpr": "datum.value % 1 == 0 ? format(datum.value, 'd') : ''",
             "tickSize": {"condition": {"test": "datum.value % 1 != 0", "value": 3.5}, "value": 6},
             "title": ["– Current intensity +", "mean sortable silt size"], "titleLineHeight": 21, "titlePadding": 9}}}},
      {"data": {"name": "aRaw"}, "mark": {"type": "circle", "size": 32, "fill": "#c4c4c4", "stroke": "#4d4d4d", "strokeWidth": 0.8, "opacity": 1},
       "encoding": {"x": {"field": "age", "type": "quantitative", "axis": null}, "y": {"field": "v", "type": "quantitative"}}},
      {"data": {"name": "aSmooth"}, "mark": {"type": "line", "stroke": "#2e3192", "strokeWidth": 2.2},
       "encoding": {"x": {"field": "age", "type": "quantitative", "axis": null}, "y": {"field": "v", "type": "quantitative"}}},
      {"data": {"name": "arrows"}, "transform": [{"filter": "datum.panel == 'A'"}], "mark": {"type": "rule", "strokeWidth": 2.5},
       "encoding": {"x": {"field": "age", "type": "quantitative", "axis": null}, "y": {"field": "tail", "type": "quantitative"}, "y2": {"field": "head"},
         "color": {"field": "ev", "type": "nominal", "scale": {"domain": ["H1", "BA", "LGM"], "range": ["#ed1c24", "#00a651", "#2e3192"]}, "legend": null}}},
      {"data": {"name": "arrows"}, "transform": [{"filter": "datum.panel == 'A'"}], "mark": {"type": "point", "filled": true, "size": 110, "opacity": 1},
       "encoding": {"x": {"field": "age", "type": "quantitative", "axis": null}, "y": {"field": "head", "type": "quantitative"},
         "shape": {"field": "dir", "type": "nominal", "scale": {"domain": ["down", "up"], "range": ["triangle-down", "triangle-up"]}, "legend": null},
         "color": {"field": "ev", "type": "nominal", "scale": {"domain": ["H1", "BA", "LGM"], "range": ["#ed1c24", "#00a651", "#2e3192"]}, "legend": null}}},
      {"data": {"name": "sites"}, "transform": [{"filter": "datum.panel == 'A'"}], "mark": {"type": "circle", "size": 640, "fill": "#000000", "opacity": 1},
       "encoding": {"x": {"field": "cAge", "type": "quantitative", "axis": null}, "y": {"field": "cV", "type": "quantitative"}}},
      {"data": {"name": "sites"}, "transform": [{"filter": "datum.panel == 'A'"}], "mark": {"type": "text", "fill": "#ffffff", "fontSize": 21, "fontWeight": "bold", "align": "center", "baseline": "middle"},
       "encoding": {"x": {"field": "cAge", "type": "quantitative", "axis": null}, "y": {"field": "cV", "type": "quantitative"}, "text": {"field": "letter"}}},
      {"data": {"name": "sites"}, "transform": [{"filter": "datum.panel == 'A'"}], "mark": {"type": "text", "fill": "#111111", "fontSize": 17.5, "align": "left", "baseline": "middle", "lineBreak": "\n", "lineHeight": 18.5},
       "encoding": {"x": {"field": "tAge", "type": "quantitative", "axis": null}, "y": {"field": "tV", "type": "quantitative"}, "text": {"field": "label"}}},
      {"data": {"name": "bands"}, "mark": {"type": "text", "fill": "#111111", "fontSize": 17, "align": "center", "baseline": "middle"},
       "encoding": {"x": {"field": "mid", "type": "quantitative", "axis": null}, "y": {"datum": 20.33, "type": "quantitative"}, "text": {"field": "name"}}}
    ]
  },
  {
    "layer": [
      {"data": {"name": "bRaw"}, "mark": {"type": "line", "stroke": "#b5b5b5", "strokeWidth": 1.3},
       "encoding": {"x": {"field": "age", "type": "quantitative", "axis": null},
         "y": {"field": "v", "type": "quantitative", "scale": {"domain": [17.6, 23.2], "range": [354.4, 157.3], "nice": false, "zero": false},
           "axis": {"orient": "right", "zindex": 1, "labelOverlap": false, "values": [18,18.5,19,19.5,20,20.5,21,21.5,22,22.5,23], "labelExpr": "datum.value % 1 == 0 ? format(datum.value, 'd') : ''",
             "tickSize": {"condition": {"test": "datum.value % 1 != 0", "value": 3.5}, "value": 6},
             "title": ["mean sortable silt size", "– Current intensity +"], "titleAngle": -90, "titleBaseline": "top", "titleLineHeight": 16.5, "titlePadding": -5}}}},
      {"data": {"name": "bRaw"}, "mark": {"type": "circle", "size": 32, "fill": "#c4c4c4", "stroke": "#4d4d4d", "strokeWidth": 0.8, "opacity": 1},
       "encoding": {"x": {"field": "age", "type": "quantitative", "axis": null}, "y": {"field": "v", "type": "quantitative"}}},
      {"data": {"name": "bSmooth"}, "mark": {"type": "line", "stroke": "#f7931e", "strokeWidth": 2.2},
       "encoding": {"x": {"field": "age", "type": "quantitative", "axis": null}, "y": {"field": "v", "type": "quantitative"}}},
      {"data": {"name": "arrows"}, "transform": [{"filter": "datum.panel == 'B'"}], "mark": {"type": "rule", "strokeWidth": 2.5},
       "encoding": {"x": {"field": "age", "type": "quantitative", "axis": null}, "y": {"field": "tail", "type": "quantitative"}, "y2": {"field": "head"},
         "color": {"field": "ev", "type": "nominal", "scale": {"domain": ["H1", "BA", "LGM"], "range": ["#ed1c24", "#00a651", "#2e3192"]}, "legend": null}}},
      {"data": {"name": "arrows"}, "transform": [{"filter": "datum.panel == 'B'"}], "mark": {"type": "point", "filled": true, "size": 110, "opacity": 1},
       "encoding": {"x": {"field": "age", "type": "quantitative", "axis": null}, "y": {"field": "head", "type": "quantitative"},
         "shape": {"field": "dir", "type": "nominal", "scale": {"domain": ["down", "up"], "range": ["triangle-down", "triangle-up"]}, "legend": null},
         "color": {"field": "ev", "type": "nominal", "scale": {"domain": ["H1", "BA", "LGM"], "range": ["#ed1c24", "#00a651", "#2e3192"]}, "legend": null}}},
      {"data": {"name": "sites"}, "transform": [{"filter": "datum.panel == 'B'"}], "mark": {"type": "circle", "size": 640, "fill": "#000000", "opacity": 1},
       "encoding": {"x": {"field": "cAge", "type": "quantitative", "axis": null}, "y": {"field": "cV", "type": "quantitative"}}},
      {"data": {"name": "sites"}, "transform": [{"filter": "datum.panel == 'B'"}], "mark": {"type": "text", "fill": "#ffffff", "fontSize": 21, "fontWeight": "bold", "align": "center", "baseline": "middle"},
       "encoding": {"x": {"field": "cAge", "type": "quantitative", "axis": null}, "y": {"field": "cV", "type": "quantitative"}, "text": {"field": "letter"}}},
      {"data": {"name": "sites"}, "transform": [{"filter": "datum.panel == 'B'"}], "mark": {"type": "text", "fill": "#111111", "fontSize": 17.5, "align": "left", "baseline": "middle", "lineBreak": "\n", "lineHeight": 18.5},
       "encoding": {"x": {"field": "tAge", "type": "quantitative", "axis": null}, "y": {"field": "tV", "type": "quantitative"}, "text": {"field": "label"}}}
    ]
  },
  {
    "layer": [
      {"data": {"name": "cRaw"}, "mark": {"type": "line", "stroke": "#b5b5b5", "strokeWidth": 1.3},
       "encoding": {"x": {"field": "age", "type": "quantitative", "axis": null},
         "y": {"field": "v", "type": "quantitative", "scale": {"domain": [15, 19.08], "range": [528, 312.1], "nice": false, "zero": false},
           "axis": {"orient": "left", "zindex": 1, "labelOverlap": false, "values": [15,15.5,16,16.5,17,17.5,18,18.5,19], "labelExpr": "datum.value % 1 == 0 ? format(datum.value, 'd') : ''",
             "tickSize": {"condition": {"test": "datum.value % 1 != 0", "value": 3.5}, "value": 6},
             "title": ["– Current intensity +", "mean sortable silt size"], "titleLineHeight": 21.5, "titlePadding": 8}}}},
      {"data": {"name": "cRaw"}, "mark": {"type": "circle", "size": 32, "fill": "#c4c4c4", "stroke": "#4d4d4d", "strokeWidth": 0.8, "opacity": 1},
       "encoding": {"x": {"field": "age", "type": "quantitative", "axis": null}, "y": {"field": "v", "type": "quantitative"}}},
      {"data": {"name": "cSmooth"}, "mark": {"type": "line", "stroke": "#1ba1e2", "strokeWidth": 2.2},
       "encoding": {"x": {"field": "age", "type": "quantitative", "axis": null}, "y": {"field": "v", "type": "quantitative"}}},
      {"data": {"name": "arrows"}, "transform": [{"filter": "datum.panel == 'C'"}], "mark": {"type": "rule", "strokeWidth": 2.5},
       "encoding": {"x": {"field": "age", "type": "quantitative", "axis": null}, "y": {"field": "tail", "type": "quantitative"}, "y2": {"field": "head"},
         "color": {"field": "ev", "type": "nominal", "scale": {"domain": ["H1", "BA", "LGM"], "range": ["#ed1c24", "#00a651", "#2e3192"]}, "legend": null}}},
      {"data": {"name": "arrows"}, "transform": [{"filter": "datum.panel == 'C'"}], "mark": {"type": "point", "filled": true, "size": 110, "opacity": 1},
       "encoding": {"x": {"field": "age", "type": "quantitative", "axis": null}, "y": {"field": "head", "type": "quantitative"},
         "shape": {"field": "dir", "type": "nominal", "scale": {"domain": ["down", "up"], "range": ["triangle-down", "triangle-up"]}, "legend": null},
         "color": {"field": "ev", "type": "nominal", "scale": {"domain": ["H1", "BA", "LGM"], "range": ["#ed1c24", "#00a651", "#2e3192"]}, "legend": null}}},
      {"data": {"name": "sites"}, "transform": [{"filter": "datum.panel == 'C'"}], "mark": {"type": "circle", "size": 640, "fill": "#000000", "opacity": 1},
       "encoding": {"x": {"field": "cAge", "type": "quantitative", "axis": null}, "y": {"field": "cV", "type": "quantitative"}}},
      {"data": {"name": "sites"}, "transform": [{"filter": "datum.panel == 'C'"}], "mark": {"type": "text", "fill": "#ffffff", "fontSize": 21, "fontWeight": "bold", "align": "center", "baseline": "middle"},
       "encoding": {"x": {"field": "cAge", "type": "quantitative", "axis": null}, "y": {"field": "cV", "type": "quantitative"}, "text": {"field": "letter"}}},
      {"data": {"name": "sites"}, "transform": [{"filter": "datum.panel == 'C'"}], "mark": {"type": "text", "fill": "#111111", "fontSize": 17.5, "align": "left", "baseline": "middle", "lineBreak": "\n", "lineHeight": 18.5},
       "encoding": {"x": {"field": "tAge", "type": "quantitative", "axis": null}, "y": {"field": "tV", "type": "quantitative"}, "text": {"field": "label"}}}
    ]
  },
  {
    "layer": [
      {"data": {"name": "dRaw"}, "mark": {"type": "line", "stroke": "#111111", "strokeWidth": 1.3},
       "encoding": {"x": {"field": "age", "type": "quantitative", "axis": null},
         "y": {"field": "v", "type": "quantitative", "scale": {"domain": [0.4, 2.0], "range": [523.7, 703.7], "nice": false, "zero": false},
           "axis": {"orient": "right", "zindex": 1, "labelOverlap": false, "offset": -408, "values": [0.4, 0.8, 1.2, 1.6, 2.0], "labelExpr": "datum.value < 0.5 ? '0.6' : format(datum.value, '.1f')",
             "tickSize": 5, "title": ["ARM/k", "– Current intensity +"], "titleAngle": -90, "titleBaseline": "top", "titleLineHeight": 15, "titlePadding": -8}}}},
      {"data": {"name": "dRaw"}, "mark": {"type": "circle", "size": 110, "fill": "#f6d98f", "stroke": "#333333", "strokeWidth": 1, "opacity": 1},
       "encoding": {"x": {"field": "age", "type": "quantitative", "axis": null}, "y": {"field": "v", "type": "quantitative"}}},
      {"data": {"name": "arrows"}, "transform": [{"filter": "datum.panel == 'D'"}], "mark": {"type": "rule", "strokeWidth": 2.5},
       "encoding": {"x": {"field": "age", "type": "quantitative", "axis": null}, "y": {"field": "tail", "type": "quantitative"}, "y2": {"field": "head"},
         "color": {"field": "ev", "type": "nominal", "scale": {"domain": ["H1", "BA", "LGM"], "range": ["#ed1c24", "#00a651", "#2e3192"]}, "legend": null}}},
      {"data": {"name": "arrows"}, "transform": [{"filter": "datum.panel == 'D'"}], "mark": {"type": "point", "filled": true, "size": 110, "opacity": 1},
       "encoding": {"x": {"field": "age", "type": "quantitative", "axis": null}, "y": {"field": "head", "type": "quantitative"},
         "shape": {"field": "dir", "type": "nominal", "scale": {"domain": ["down", "up"], "range": ["triangle-down", "triangle-up"]}, "legend": null},
         "color": {"field": "ev", "type": "nominal", "scale": {"domain": ["H1", "BA", "LGM"], "range": ["#ed1c24", "#00a651", "#2e3192"]}, "legend": null}}},
      {"data": {"name": "sites"}, "transform": [{"filter": "datum.panel == 'D'"}], "mark": {"type": "circle", "size": 640, "fill": "#000000", "opacity": 1},
       "encoding": {"x": {"field": "cAge", "type": "quantitative", "axis": null}, "y": {"field": "cV", "type": "quantitative"}}},
      {"data": {"name": "sites"}, "transform": [{"filter": "datum.panel == 'D'"}], "mark": {"type": "text", "fill": "#ffffff", "fontSize": 21, "fontWeight": "bold", "align": "center", "baseline": "middle"},
       "encoding": {"x": {"field": "cAge", "type": "quantitative", "axis": null}, "y": {"field": "cV", "type": "quantitative"}, "text": {"field": "letter"}}},
      {"data": {"name": "sites"}, "transform": [{"filter": "datum.panel == 'D'"}], "mark": {"type": "text", "fill": "#111111", "fontSize": 17.5, "align": "left", "baseline": "middle", "lineBreak": "\n", "lineHeight": 18.5},
       "encoding": {"x": {"field": "tAge", "type": "quantitative", "axis": null}, "y": {"field": "tV", "type": "quantitative"}, "text": {"field": "label"}}}
    ]
  },
  {
    "resolve": {"axis": {"x": "independent"}},
    "layer": [
      {"data": {"name": "eRaw"}, "mark": {"type": "line", "stroke": "#111111", "strokeWidth": 1.3},
       "encoding": {"x": {"field": "age", "type": "quantitative",
           "axis": {"orient": "bottom", "zindex": 1, "labelOverlap": false, "title": "Age (cal ka BP)", "values": [1,2,3,4,5,6,7,8,9,10,11,12,13,14,15,16,17,18,19,20,21,22,23,24,25,26,27,28,29,30,31,32,33,34,35,36,37,38,39,40,41,42,43],
             "labelExpr": "(datum.value == 1 || datum.value == 43 || datum.value % 5 == 0) ? format(datum.value, 'd') : ''",
             "tickSize": {"condition": {"test": "datum.value == 1 || datum.value == 43 || datum.value % 5 == 0", "value": 8}, "value": 4},
             "labelPadding": 2, "titlePadding": 3}},
         "y": {"field": "v", "type": "quantitative", "scale": {"domain": [3.0, 5.0], "range": [888.7, 702.7], "nice": false, "zero": false},
           "axis": {"orient": "left", "zindex": 1, "labelOverlap": false, "values": [3.0, 3.5, 4.0, 4.5, 5.0], "labelExpr": "datum.value == 3.5 ? '3.4' : datum.value == 4.5 ? '4.4' : format(datum.value, '.1f')",
             "tickSize": 6, "title": ["+ Temperature –", "δ¹⁸Obenthic (‰ vs. PDB)"], "titleLineHeight": 18, "titlePadding": 3}}}},
      {"data": {"name": "eRaw"}, "mark": {"type": "circle", "size": 110, "fill": "#f4a7a5", "stroke": "#333333", "strokeWidth": 1, "opacity": 1},
       "encoding": {"x": {"field": "age", "type": "quantitative", "axis": null}, "y": {"field": "v", "type": "quantitative"}}},
      {"data": {"name": "arrows"}, "transform": [{"filter": "datum.panel == 'E'"}], "mark": {"type": "rule", "strokeWidth": 2.5},
       "encoding": {"x": {"field": "age", "type": "quantitative", "axis": null}, "y": {"field": "tail", "type": "quantitative"}, "y2": {"field": "head"},
         "color": {"field": "ev", "type": "nominal", "scale": {"domain": ["H1", "BA", "LGM"], "range": ["#ed1c24", "#00a651", "#2e3192"]}, "legend": null}}},
      {"data": {"name": "arrows"}, "transform": [{"filter": "datum.panel == 'E'"}], "mark": {"type": "point", "filled": true, "size": 110, "opacity": 1},
       "encoding": {"x": {"field": "age", "type": "quantitative", "axis": null}, "y": {"field": "head", "type": "quantitative"},
         "shape": {"field": "dir", "type": "nominal", "scale": {"domain": ["down", "up"], "range": ["triangle-down", "triangle-up"]}, "legend": null},
         "color": {"field": "ev", "type": "nominal", "scale": {"domain": ["H1", "BA", "LGM"], "range": ["#ed1c24", "#00a651", "#2e3192"]}, "legend": null}}},
      {"data": {"name": "sites"}, "transform": [{"filter": "datum.panel == 'E'"}], "mark": {"type": "circle", "size": 640, "fill": "#000000", "opacity": 1},
       "encoding": {"x": {"field": "cAge", "type": "quantitative", "axis": null}, "y": {"field": "cV", "type": "quantitative"}}},
      {"data": {"name": "sites"}, "transform": [{"filter": "datum.panel == 'E'"}], "mark": {"type": "text", "fill": "#ffffff", "fontSize": 21, "fontWeight": "bold", "align": "center", "baseline": "middle"},
       "encoding": {"x": {"field": "cAge", "type": "quantitative", "axis": null}, "y": {"field": "cV", "type": "quantitative"}, "text": {"field": "letter"}}},
      {"data": {"name": "sites"}, "transform": [{"filter": "datum.panel == 'E'"}], "mark": {"type": "text", "fill": "#111111", "fontSize": 16.5, "align": "left", "baseline": "middle", "lineBreak": "\n", "lineHeight": 18.5},
       "encoding": {"x": {"field": "tAge", "type": "quantitative", "axis": null}, "y": {"field": "tV", "type": "quantitative"}, "text": {"field": "label"}}}
    ]
  }
],
"resolve": {"scale": {"y": "independent", "color": "independent", "shape": "independent"}, "axis": {"x": "independent", "y": "independent"}}
}
